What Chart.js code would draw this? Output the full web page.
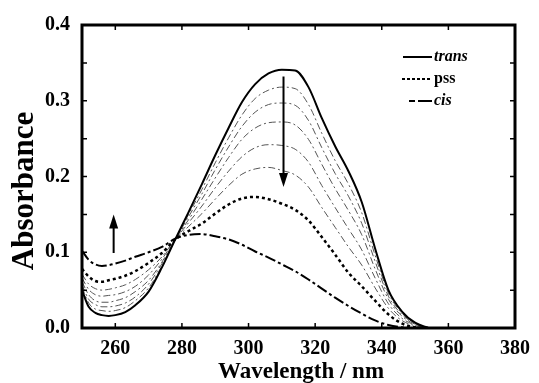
<!DOCTYPE html>
<html>
<head>
<meta charset="utf-8">
<script src="https://cdn.jsdelivr.net/npm/chart.js@4.4.1/dist/chart.umd.min.js"></script>
<style>
  html, body { margin: 0; padding: 0; background: #fff; }
  #wrap { width: 539px; height: 383px; }
</style>
</head>
<body>
<div id="wrap"><canvas id="uvChart" width="539" height="383"></canvas></div>
<script>
// wavelengths (nm) and absorbance
const wavelengths = [250, 252, 254, 256, 258, 260, 263, 266, 270, 274, 278, 282, 286, 290, 294, 298, 302, 306, 310, 314, 318, 322, 326, 330, 334, 338, 342, 346, 350, 354];
const trans = [0.050, 0.028, 0.020, 0.017, 0.016, 0.017, 0.021, 0.030, 0.048, 0.080, 0.117, 0.153, 0.190, 0.228, 0.264, 0.298, 0.322, 0.336, 0.341, 0.340, 0.318, 0.277, 0.240, 0.207, 0.166, 0.105, 0.050, 0.022, 0.007, 0.000];
const step1 = [0.054, 0.033, 0.025, 0.023, 0.022, 0.023, 0.027, 0.036, 0.053, 0.082, 0.117, 0.150, 0.183, 0.218, 0.251, 0.281, 0.303, 0.314, 0.318, 0.316, 0.295, 0.257, 0.221, 0.190, 0.152, 0.096, 0.046, 0.020, 0.006, 0.000];
const step2 = [0.057, 0.038, 0.031, 0.028, 0.028, 0.029, 0.033, 0.041, 0.058, 0.085, 0.117, 0.147, 0.177, 0.209, 0.239, 0.266, 0.285, 0.295, 0.297, 0.294, 0.274, 0.238, 0.204, 0.174, 0.138, 0.088, 0.042, 0.018, 0.006, 0.000];
const step3 = [0.061, 0.044, 0.036, 0.034, 0.034, 0.036, 0.040, 0.048, 0.063, 0.087, 0.117, 0.143, 0.170, 0.198, 0.225, 0.249, 0.264, 0.271, 0.272, 0.268, 0.249, 0.216, 0.184, 0.155, 0.123, 0.078, 0.038, 0.016, 0.005, 0.000];
const step4 = [0.066, 0.051, 0.044, 0.042, 0.043, 0.044, 0.048, 0.055, 0.070, 0.091, 0.117, 0.139, 0.161, 0.185, 0.207, 0.226, 0.238, 0.242, 0.241, 0.236, 0.219, 0.188, 0.159, 0.131, 0.103, 0.066, 0.032, 0.013, 0.004, 0.000];
const step5 = [0.071, 0.058, 0.052, 0.050, 0.051, 0.053, 0.057, 0.064, 0.077, 0.094, 0.117, 0.134, 0.151, 0.170, 0.188, 0.203, 0.210, 0.212, 0.208, 0.202, 0.186, 0.159, 0.133, 0.107, 0.083, 0.053, 0.026, 0.010, 0.003, 0.000];
const pss = [0.078, 0.068, 0.062, 0.061, 0.063, 0.065, 0.069, 0.075, 0.086, 0.099, 0.117, 0.128, 0.138, 0.151, 0.163, 0.171, 0.173, 0.170, 0.164, 0.156, 0.142, 0.120, 0.097, 0.073, 0.055, 0.036, 0.018, 0.006, 0.001, 0.000];
const cis = [0.102, 0.090, 0.084, 0.082, 0.083, 0.085, 0.089, 0.094, 0.100, 0.107, 0.118, 0.123, 0.124, 0.121, 0.117, 0.110, 0.101, 0.093, 0.084, 0.075, 0.064, 0.052, 0.040, 0.029, 0.019, 0.010, 0.004, 0.001, 0.000, 0.000];

const xTicks = [260, 280, 300, 320, 340, 360, 380];
const yTicks = [0, 0.1, 0.2, 0.3, 0.4];
const legendNames = ['trans', 'pss', 'cis'];

const serif = '"Liberation Serif", "Times New Roman", serif';

function pts(arr) {
    return wavelengths.map((w, i) => ({ x: w, y: arr[i] }));
}

function thinLine(arr) {
    return {
        data: pts(arr),
        borderColor: '#555',
        borderWidth: 1,
        borderDash: [7, 3, 2, 3],
        pointRadius: 0,
        fill: false,
        cubicInterpolationMode: 'monotone'
    };
}

// frame, inward ticks, arrows, legend and axis titles
const decorations = {
    id: 'decorations',
    afterDraw(chart) {
        const ctx = chart.ctx;
        const a = chart.chartArea;
        const xs = chart.scales.x;
        const ys = chart.scales.y;
        ctx.save();
        ctx.strokeStyle = '#000';
        ctx.fillStyle = '#000';

        ctx.lineWidth = 1.5;
        ctx.beginPath();
        [260, 280, 300, 320, 340, 360].forEach(v => {
            const px = xs.getPixelForValue(v);
            ctx.moveTo(px, a.bottom); ctx.lineTo(px, a.bottom - 5);
            ctx.moveTo(px, a.top); ctx.lineTo(px, a.top + 5);
        });
        [0.05, 0.1, 0.15, 0.2, 0.25, 0.3, 0.35].forEach(v => {
            const py = ys.getPixelForValue(v);
            ctx.moveTo(a.left, py); ctx.lineTo(a.left + 5, py);
            ctx.moveTo(a.right, py); ctx.lineTo(a.right - 5, py);
        });
        ctx.stroke();

        ctx.lineWidth = 3;
        ctx.strokeRect(a.left, a.top, a.right - a.left, a.bottom - a.top);

        // arrows
        function arrow(wl, from, to) {
            const px = xs.getPixelForValue(wl);
            const y1 = ys.getPixelForValue(from);
            const y2 = ys.getPixelForValue(to);
            const dir = y2 > y1 ? 1 : -1;
            ctx.lineWidth = 2;
            ctx.beginPath();
            ctx.moveTo(px, y1);
            ctx.lineTo(px, y2 - dir * 10);
            ctx.stroke();
            ctx.beginPath();
            ctx.moveTo(px, y2);
            ctx.lineTo(px - 4.5, y2 - dir * 14);
            ctx.lineTo(px + 4.5, y2 - dir * 14);
            ctx.closePath();
            ctx.fill();
        }
        arrow(310.5, 0.332, 0.186);
        arrow(259.5, 0.099, 0.150);

        // legend
        const items = [
            { y: 57, x1: 403, dash: [], w: 2, font: 'italic bold 16px ' + serif },
            { y: 79, x1: 402, dash: [3, 2], w: 2, font: 'bold 16px ' + serif },
            { y: 101, x1: 409, dash: [6, 3, 14, 0], w: 2, font: 'italic bold 16px ' + serif }
        ];
        items.forEach((it, i) => {
            ctx.lineWidth = it.w;
            ctx.setLineDash(it.dash);
            ctx.beginPath();
            ctx.moveTo(it.x1, it.y);
            ctx.lineTo(432, it.y);
            ctx.stroke();
            ctx.setLineDash([]);
            ctx.font = it.font;
            ctx.textAlign = 'left';
            ctx.textBaseline = 'alphabetic';
            ctx.fillText(legendNames[i], 434, it.y + 4);
        });

        // axis titles
        ctx.font = 'bold 23px ' + serif;
        ctx.textAlign = 'center';
        ctx.textBaseline = 'alphabetic';
        ctx.fillText('Wavelength / nm', 301, 378);

        ctx.save();
        ctx.translate(33, 191);
        ctx.rotate(-Math.PI / 2);
        ctx.font = 'bold 31px ' + serif;
        ctx.fillText('Absorbance', 0, 0);
        ctx.restore();

        ctx.restore();
    }
};

const tickFont = { family: serif, size: 20, weight: 'bold' };

new Chart(document.getElementById('uvChart').getContext('2d'), {
    type: 'line',
    data: {
        datasets: [
            {
                label: 'trans',
                data: pts(trans),
                borderColor: '#000',
                borderWidth: 2,
                pointRadius: 0,
                fill: false,
                cubicInterpolationMode: 'monotone'
            },
            {
                label: 'pss',
                data: pts(pss),
                borderColor: '#000',
                borderWidth: 2.5,
                borderDash: [3, 3],
                pointRadius: 0,
                fill: false,
                cubicInterpolationMode: 'monotone'
            },
            {
                label: 'cis',
                data: pts(cis),
                borderColor: '#000',
                borderWidth: 2,
                borderDash: [11, 3, 3, 3],
                pointRadius: 0,
                fill: false,
                cubicInterpolationMode: 'monotone'
            },
            thinLine(step1),
            thinLine(step2),
            thinLine(step3),
            thinLine(step4),
            thinLine(step5)
        ]
    },
    options: {
        responsive: false,
        animation: false,
        layout: { padding: { top: 25, right: 20, left: 0, bottom: 0 } },
        plugins: {
            legend: { display: false },
            tooltip: { enabled: false }
        },
        scales: {
            x: {
                type: 'linear',
                min: 250,
                max: 380,
                afterFit: scale => { scale.height = 55; },
                afterBuildTicks: scale => { scale.ticks = xTicks.map(v => ({ value: v })); },
                grid: { display: false, drawTicks: false },
                border: { display: false },
                ticks: {
                    autoSkip: false,
                    maxRotation: 0,
                    padding: 9,
                    color: '#000',
                    font: tickFont
                }
            },
            y: {
                type: 'linear',
                min: 0,
                max: 0.4,
                afterFit: scale => { scale.width = 82; },
                afterBuildTicks: scale => { scale.ticks = yTicks.map(v => ({ value: v })); },
                grid: { display: false, drawTicks: false },
                border: { display: false },
                ticks: {
                    padding: 12,
                    color: '#000',
                    font: tickFont,
                    callback: v => v.toFixed(1)
                }
            }
        }
    },
    plugins: [decorations]
});
</script>
</body>
</html>
